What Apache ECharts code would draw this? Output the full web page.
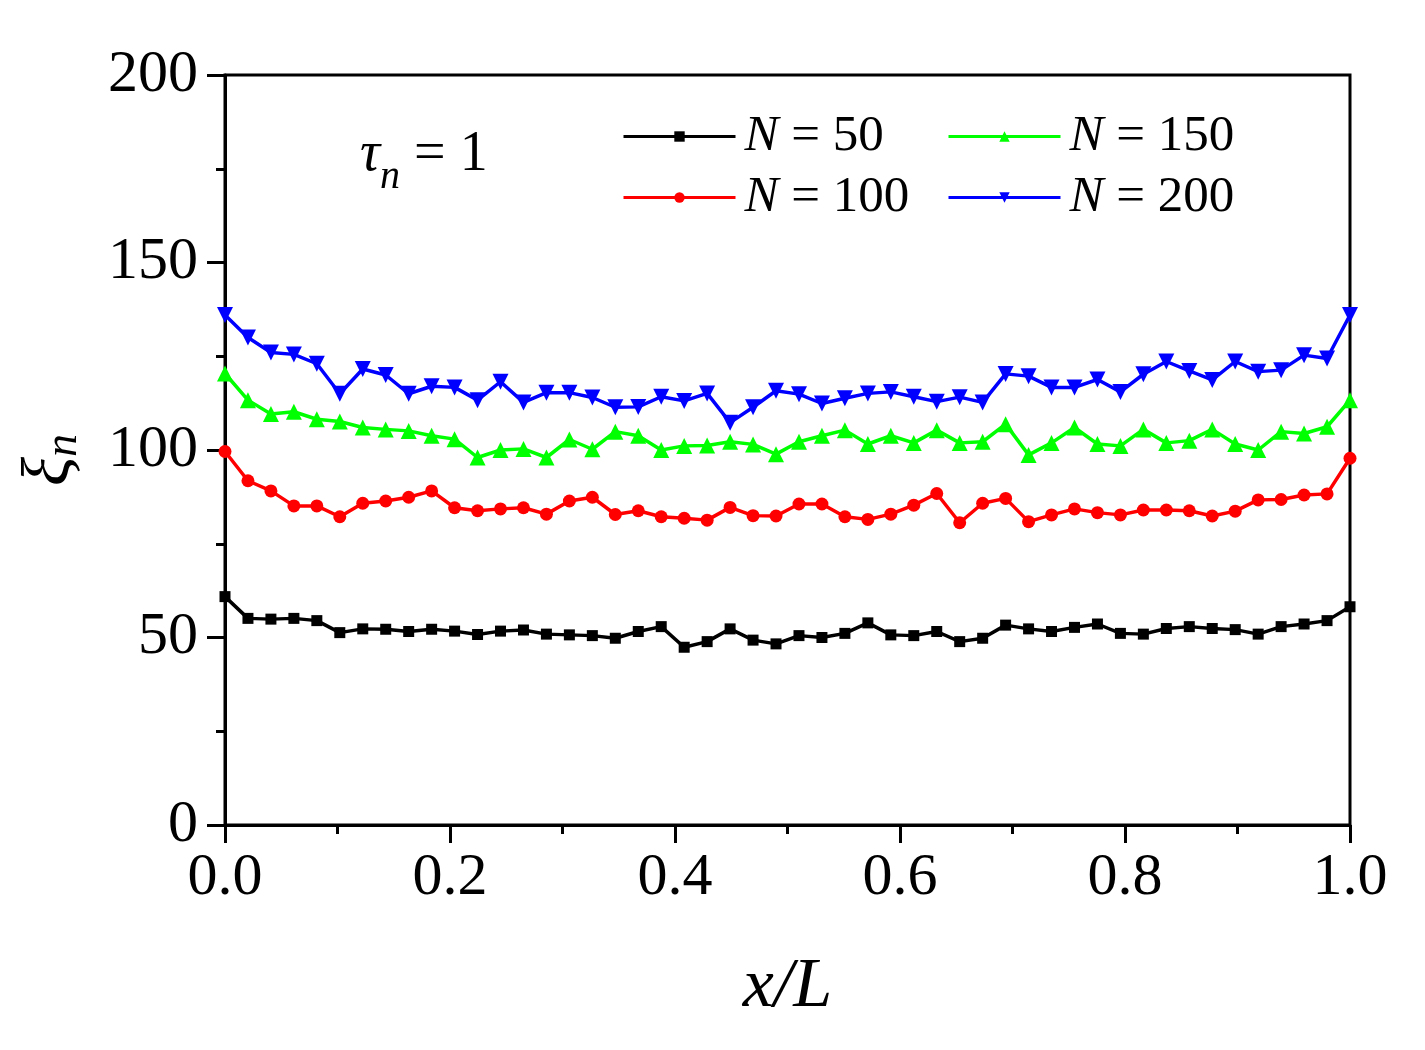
<!DOCTYPE html>
<html>
<head>
<meta charset="utf-8">
<script src="https://cdn.jsdelivr.net/npm/echarts@6/dist/echarts.min.js"></script>
<style>html,body{margin:0;padding:0;background:#fff;}#c{width:1425px;height:1050px;}</style>
</head>
<body>
<div id="c"></div>
<script>
// x positions: 50 equally spaced nodes along x/L
const xNodes = Array.from({length: 50}, (_, i) => i / 49);
const xTicks = [0, 0.2, 0.4, 0.6, 0.8, 1.0];
const yTicks = [0, 50, 100, 150, 200];

const seriesNames = ['N = 50', 'N = 100', 'N = 150', 'N = 200'];

const n50 = [60.9,55.1,54.9,55.1,54.5,51.3,52.3,52.2,51.6,52.2,
             51.7,50.8,51.7,52.0,50.9,50.7,50.5,49.8,51.6,52.9,
             47.4,48.9,52.3,49.3,48.3,50.5,50.0,51.1,53.9,50.7,
             50.5,51.6,48.9,49.8,53.3,52.3,51.6,52.7,53.6,51.1,
             50.9,52.4,52.9,52.4,52.1,50.9,52.9,53.6,54.5,58.2];
const n100 = [99.6,91.8,89.1,85.1,85.1,82.2,85.8,86.4,87.4,89.1,
              84.6,83.8,84.3,84.6,82.9,86.4,87.4,82.8,83.8,82.2,
              81.8,81.3,84.7,82.5,82.4,85.6,85.6,82.2,81.5,82.9,
              85.3,88.4,80.6,85.8,87.1,80.9,82.7,84.3,83.3,82.7,
              84.0,84.0,83.8,82.4,83.7,86.7,86.8,88.0,88.3,97.8];
const n150 = [120.4,113.3,109.6,110.2,108.2,107.6,106.0,105.5,105.1,103.8,
              102.9,98.0,100.0,100.3,98.0,102.8,100.2,104.9,103.8,100.0,
              101.1,101.2,102.2,101.5,98.9,102.2,103.8,105.3,101.6,103.8,
              101.9,105.3,101.9,102.2,106.9,98.7,101.9,106.0,101.6,101.1,
              105.5,101.9,102.5,105.5,101.6,100.0,104.9,104.4,106.2,113.3];
const n200 = [136.0,130.0,126.0,125.5,123.0,115.0,121.6,120.0,115.0,117.0,
              116.7,113.3,118.2,112.7,115.3,115.3,114.0,111.4,111.5,114.2,
              113.1,115.1,107.3,111.4,115.8,114.9,112.4,113.8,115.1,115.5,
              114.2,112.9,114.1,112.7,120.3,119.7,116.7,116.7,118.8,115.5,
              120.2,123.6,121.1,118.7,123.6,120.9,121.3,125.3,124.4,136.0];

const FONT = 'Liberation Serif';
const pair = arr => arr.map((v, i) => [xNodes[i], v]);

function mk(name, data, color, symbol, size, rotate) {
  return {
    name: name, type: 'line', data: pair(data),
    symbol: symbol, symbolSize: size, symbolRotate: rotate || 0,
    showSymbol: true, clip: false,
    lineStyle: {color: color, width: 3.5},
    itemStyle: {color: color},
    emphasis: {disabled: true},
    animation: false
  };
}

const legendRich = {
  i: {fontFamily: FONT, fontSize: 51, fontStyle: 'italic', color: '#000'},
  r: {fontFamily: FONT, fontSize: 51, color: '#000'}
};
const legendFmt = name => '{i|N}{r|' + name.slice(1) + '}';
function mkLegend(names, left) {
  return {
    data: names, orient: 'vertical', left: left, top: 106,
    itemWidth: 112, itemHeight: 13, itemGap: 10,
    selectedMode: false,
    lineStyle: {width: 3},
    formatter: legendFmt,
    textStyle: {fontFamily: FONT, fontSize: 51, color: '#000', padding: [0, 0, 0, 4], rich: legendRich}
  };
}

const chart = echarts.init(document.getElementById('c'), null, {renderer: 'canvas'});
chart.setOption({
  backgroundColor: '#fff',
  animation: false,
  grid: {left: 225, top: 75, width: 1125, height: 750, show: true, borderColor: '#000', borderWidth: 3, backgroundColor: 'transparent'},
  legend: [mkLegend([seriesNames[0], seriesNames[1]], 617), mkLegend([seriesNames[2], seriesNames[3]], 942)],
  xAxis: {
    type: 'value', min: xTicks[0], max: xTicks[xTicks.length - 1], interval: 0.2,
    name: '{i|x}{r|/}{i|L}', nameLocation: 'middle', nameGap: 128,
    nameTextStyle: {rich: {
      i: {fontFamily: FONT, fontSize: 70, fontStyle: 'italic', color: '#000'},
      r: {fontFamily: FONT, fontSize: 70, fontStyle: 'italic', color: '#000'}
    }},
    axisLine: {show: true, lineStyle: {color: '#000', width: 3}},
    axisTick: {show: true, inside: false, length: 18, lineStyle: {color: '#000', width: 3}},
    minorTick: {show: true, splitNumber: 2, length: 9, lineStyle: {color: '#000', width: 3}},
    splitLine: {show: false},
    axisLabel: {fontFamily: FONT, fontSize: 60, color: '#000', margin: 23, formatter: v => v.toFixed(1)}
  },
  yAxis: {
    type: 'value', min: yTicks[0], max: yTicks[yTicks.length - 1], interval: 50,
    name: '{x|ξ}{s|n}', nameLocation: 'middle', nameGap: 140, nameRotate: 90,
    nameTextStyle: {padding: [0, 20, 0, 0], rich: {
      x: {fontFamily: FONT, fontSize: 68, fontStyle: 'italic', color: '#000', lineHeight: 68, verticalAlign: 'top'},
      s: {fontFamily: FONT, fontSize: 46, fontStyle: 'italic', color: '#000', lineHeight: 46, padding: [24, 0, 0, 0], verticalAlign: 'top'}
    }},
    axisLine: {show: true, lineStyle: {color: '#000', width: 3}},
    axisTick: {show: true, inside: false, length: 18, lineStyle: {color: '#000', width: 3}},
    minorTick: {show: true, splitNumber: 2, length: 9, lineStyle: {color: '#000', width: 3}},
    splitLine: {show: false},
    axisLabel: {fontFamily: FONT, fontSize: 60, color: '#000', margin: 27}
  },
  graphic: [{
    type: 'text', left: 360, top: 127, silent: true,
    style: {
      text: '{t|τ}{s|n}{r| = 1}',
      rich: {
        t: {fontFamily: FONT, fontSize: 56, fontStyle: 'italic', fill: '#000', lineHeight: 56, verticalAlign: 'top'},
        s: {fontFamily: FONT, fontSize: 40, fontStyle: 'italic', fill: '#000', lineHeight: 40, padding: [30, 0, 0, 0], verticalAlign: 'top'},
        r: {fontFamily: FONT, fontSize: 56, fill: '#000', lineHeight: 56, verticalAlign: 'top'}
      }
    }
  }],
  series: [
    mk(seriesNames[0], n50, '#000000', 'rect', 11),
    mk(seriesNames[1], n100, '#ff0000', 'circle', 13),
    mk(seriesNames[2], n150, '#00ff00', 'triangle', 16),
    mk(seriesNames[3], n200, '#0000ff', 'triangle', 16, 180)
  ]
});
</script>
</body>
</html>
